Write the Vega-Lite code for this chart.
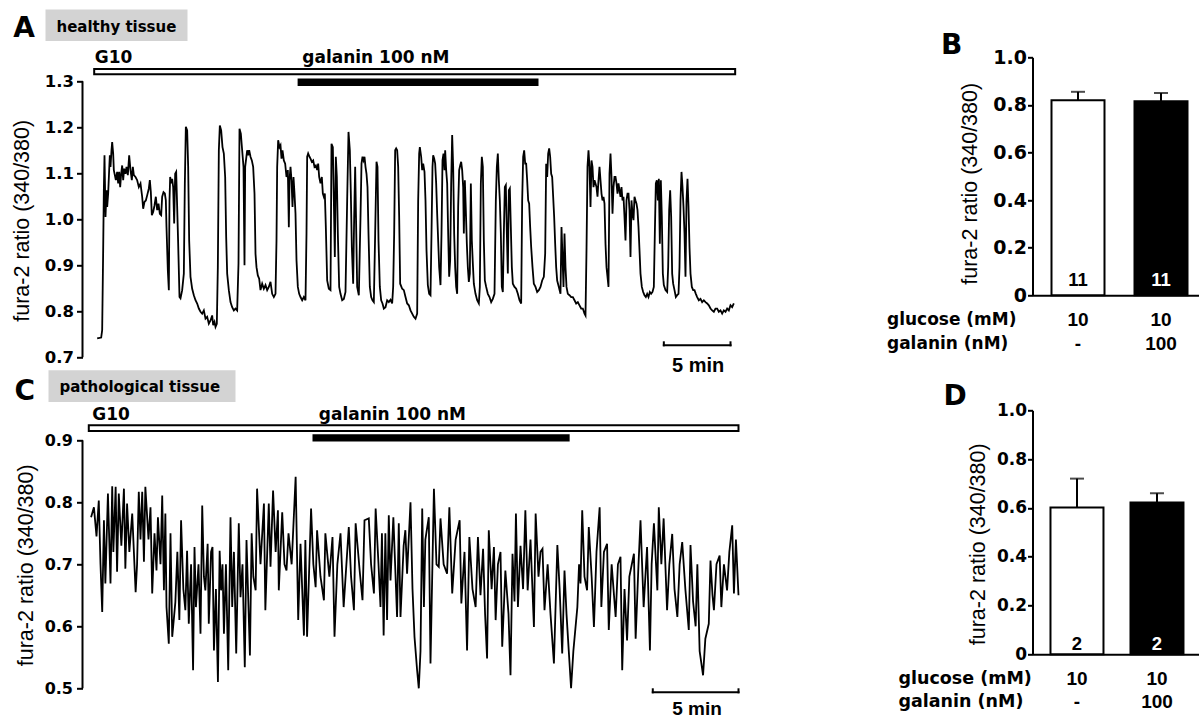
{
"$schema": "https://vega.github.io/schema/vega-lite/v6.json",
"background": "white",
"padding": {"left": 11.5, "top": 9.3, "right": 0, "bottom": 0},
"config": {"view": {"stroke": null}},
"columns": 2,
"bounds": "flush",
"align": "each",
"spacing": {"row": 53, "column": 290},
"concat": [
{
"width": 660, "height": 300,
"layer": [
{"data": {"values": [{"t":66,"r":0.741},{"t":84,"r":0.743},{"t":88.5,"r":0.759},{"t":93,"r":0.933},{"t":96,"r":1.063},{"t":99,"r":1.139},{"t":103.5,"r":1.005},{"t":108,"r":1.063},{"t":111,"r":1.027},{"t":115.5,"r":1.056},{"t":120,"r":1.107},{"t":123,"r":1.139},{"t":126,"r":1.114},{"t":130.5,"r":1.15},{"t":133.5,"r":1.168},{"t":138,"r":1.143},{"t":141,"r":1.107},{"t":145.5,"r":1.096},{"t":150,"r":1.085},{"t":156,"r":1.103},{"t":160.5,"r":1.078},{"t":165,"r":1.103},{"t":169.5,"r":1.07},{"t":174,"r":1.099},{"t":178.5,"r":1.117},{"t":183,"r":1.085},{"t":187.5,"r":1.11},{"t":193.5,"r":1.099},{"t":198,"r":1.114},{"t":204,"r":1.096},{"t":210,"r":1.139},{"t":216,"r":1.107},{"t":222,"r":1.085},{"t":226.5,"r":1.114},{"t":231,"r":1.096},{"t":238.5,"r":1.092},{"t":246,"r":1.085},{"t":253.5,"r":1.07},{"t":261,"r":1.078},{"t":268.5,"r":1.049},{"t":273,"r":1.023},{"t":279,"r":1.038},{"t":285,"r":1.041},{"t":291,"r":1.052},{"t":298.5,"r":1.067},{"t":303,"r":1.085},{"t":307.5,"r":1.059},{"t":312,"r":1.009},{"t":318,"r":1.016},{"t":324,"r":1.03},{"t":330,"r":1.049},{"t":336,"r":1.02},{"t":342,"r":1.034},{"t":348,"r":1.012},{"t":354,"r":1.009},{"t":358.5,"r":1.049},{"t":364.5,"r":1.059},{"t":370.5,"r":1.056},{"t":375,"r":1.041},{"t":378,"r":0.983},{"t":384,"r":0.889},{"t":388.5,"r":0.846},{"t":391.5,"r":1.041},{"t":394.5,"r":1.092},{"t":399,"r":1.078},{"t":403.5,"r":1.088},{"t":408,"r":1.07},{"t":412.5,"r":0.991},{"t":417,"r":1.099},{"t":421.5,"r":1.103},{"t":426,"r":1.027},{"t":430.5,"r":0.947},{"t":436.5,"r":0.831},{"t":441,"r":0.828},{"t":448.5,"r":0.846},{"t":456,"r":0.882},{"t":460.5,"r":1.078},{"t":465,"r":1.201},{"t":471,"r":1.193},{"t":475.5,"r":1.114},{"t":480,"r":0.954},{"t":486,"r":0.875},{"t":493.5,"r":0.849},{"t":501,"r":0.835},{"t":508.5,"r":0.824},{"t":516,"r":0.817},{"t":523.5,"r":0.806},{"t":531,"r":0.799},{"t":538.5,"r":0.795},{"t":546,"r":0.802},{"t":553.5,"r":0.784},{"t":561,"r":0.788},{"t":568.5,"r":0.773},{"t":576,"r":0.78},{"t":583.5,"r":0.791},{"t":588,"r":0.77},{"t":594,"r":0.777},{"t":598.5,"r":0.766},{"t":604.5,"r":0.773},{"t":609,"r":0.896},{"t":613.5,"r":1.15},{"t":618,"r":1.204},{"t":624,"r":1.193},{"t":630,"r":1.157},{"t":636,"r":1.143},{"t":642,"r":1.092},{"t":646.5,"r":0.962},{"t":651,"r":0.882},{"t":658.5,"r":0.846},{"t":666,"r":0.82},{"t":673.5,"r":0.809},{"t":681,"r":0.802},{"t":688.5,"r":0.806},{"t":696,"r":0.802},{"t":702,"r":0.904},{"t":706.5,"r":1.197},{"t":712.5,"r":1.186},{"t":718.5,"r":1.15},{"t":724.5,"r":1.114},{"t":729,"r":0.9},{"t":732,"r":1.114},{"t":736.5,"r":1.132},{"t":741,"r":1.15},{"t":745.5,"r":1.139},{"t":750,"r":1.15},{"t":756,"r":1.136},{"t":762,"r":1.128},{"t":768,"r":1.114},{"t":774,"r":1.056},{"t":778.5,"r":0.925},{"t":783,"r":0.896},{"t":789,"r":0.878},{"t":795,"r":0.871},{"t":801,"r":0.846},{"t":808.5,"r":0.86},{"t":816,"r":0.849},{"t":823.5,"r":0.857},{"t":831,"r":0.846},{"t":838.5,"r":0.853},{"t":846,"r":0.864},{"t":853.5,"r":0.838},{"t":861,"r":0.831},{"t":868.5,"r":0.838},{"t":873,"r":0.954},{"t":876,"r":1.114},{"t":880.5,"r":1.172},{"t":886.5,"r":1.157},{"t":891,"r":1.161},{"t":895.5,"r":1.132},{"t":900,"r":1.15},{"t":906,"r":1.128},{"t":912,"r":1.121},{"t":918,"r":1.092},{"t":924,"r":1.107},{"t":928.5,"r":0.983},{"t":931.5,"r":1.085},{"t":936,"r":1.114},{"t":940.5,"r":1.085},{"t":945,"r":1.027},{"t":949.5,"r":1.092},{"t":954,"r":1.056},{"t":958.5,"r":1.012},{"t":963,"r":0.911},{"t":969,"r":0.853},{"t":975,"r":0.838},{"t":981,"r":0.831},{"t":988.5,"r":0.824},{"t":996,"r":0.831},{"t":1003.5,"r":0.824},{"t":1008,"r":0.969},{"t":1011,"r":1.136},{"t":1015.5,"r":1.143},{"t":1021.5,"r":1.136},{"t":1026,"r":1.132},{"t":1032,"r":1.125},{"t":1038,"r":1.128},{"t":1044,"r":1.114},{"t":1050,"r":1.117},{"t":1056,"r":1.107},{"t":1060.5,"r":1.121},{"t":1065,"r":1.092},{"t":1071,"r":1.078},{"t":1077,"r":1.092},{"t":1081.5,"r":1.056},{"t":1086,"r":1.049},{"t":1090.5,"r":1.056},{"t":1095,"r":0.983},{"t":1101,"r":0.867},{"t":1108.5,"r":0.849},{"t":1116,"r":0.846},{"t":1120.5,"r":1.164},{"t":1126.5,"r":1.157},{"t":1131,"r":1.041},{"t":1135.5,"r":0.918},{"t":1140,"r":1.136},{"t":1144.5,"r":1.092},{"t":1149,"r":0.969},{"t":1155,"r":0.853},{"t":1161,"r":0.838},{"t":1168.5,"r":0.824},{"t":1176,"r":0.827},{"t":1183.5,"r":0.842},{"t":1191,"r":1.041},{"t":1197,"r":1.19},{"t":1203,"r":1.15},{"t":1207.5,"r":1.056},{"t":1212,"r":0.94},{"t":1218,"r":0.86},{"t":1222.5,"r":1.005},{"t":1227,"r":1.114},{"t":1231.5,"r":0.983},{"t":1236,"r":0.853},{"t":1243.5,"r":0.835},{"t":1251,"r":1.005},{"t":1255.5,"r":1.121},{"t":1260,"r":1.136},{"t":1264.5,"r":1.128},{"t":1269,"r":1.136},{"t":1273.5,"r":1.114},{"t":1278,"r":1.099},{"t":1282.5,"r":1.07},{"t":1287,"r":0.969},{"t":1293,"r":0.853},{"t":1299,"r":0.831},{"t":1305,"r":0.824},{"t":1311,"r":0.82},{"t":1317,"r":0.969},{"t":1323,"r":1.125},{"t":1327.5,"r":1.114},{"t":1332,"r":0.954},{"t":1338,"r":0.853},{"t":1344,"r":0.824},{"t":1350,"r":0.817},{"t":1356,"r":0.806},{"t":1363.5,"r":0.809},{"t":1371,"r":0.824},{"t":1378.5,"r":0.82},{"t":1386,"r":0.825},{"t":1393.5,"r":0.817},{"t":1398,"r":0.853},{"t":1402.5,"r":0.969},{"t":1407,"r":1.15},{"t":1411.5,"r":1.154},{"t":1416,"r":1.15},{"t":1420.5,"r":1.114},{"t":1425,"r":1.005},{"t":1429.5,"r":0.86},{"t":1438.5,"r":0.849},{"t":1446,"r":0.846},{"t":1453.5,"r":0.831},{"t":1461,"r":0.817},{"t":1468.5,"r":0.813},{"t":1476,"r":0.802},{"t":1483.5,"r":0.795},{"t":1491,"r":0.788},{"t":1498.5,"r":0.784},{"t":1506,"r":0.795},{"t":1510.5,"r":1.041},{"t":1515,"r":1.143},{"t":1518,"r":1.157},{"t":1524,"r":1.136},{"t":1528.5,"r":1.107},{"t":1533,"r":1.121},{"t":1539,"r":1.103},{"t":1543.5,"r":1.041},{"t":1548,"r":0.933},{"t":1554,"r":0.857},{"t":1560,"r":0.838},{"t":1566,"r":0.835},{"t":1570.5,"r":0.969},{"t":1575,"r":1.114},{"t":1578,"r":1.139},{"t":1582.5,"r":1.132},{"t":1587,"r":1.121},{"t":1591.5,"r":1.078},{"t":1596,"r":1.012},{"t":1600.5,"r":0.954},{"t":1605,"r":0.896},{"t":1611,"r":0.857},{"t":1615.5,"r":0.969},{"t":1620,"r":1.128},{"t":1624.5,"r":1.143},{"t":1629,"r":1.107},{"t":1632,"r":1.15},{"t":1636.5,"r":1.107},{"t":1641,"r":1.078},{"t":1645.5,"r":0.969},{"t":1650,"r":0.875},{"t":1654.5,"r":0.911},{"t":1659,"r":1.078},{"t":1663.5,"r":1.183},{"t":1668,"r":1.114},{"t":1672.5,"r":0.969},{"t":1677,"r":0.896},{"t":1681.5,"r":0.853},{"t":1686,"r":0.838},{"t":1690.5,"r":1.027},{"t":1695,"r":1.107},{"t":1699.5,"r":1.117},{"t":1704,"r":1.125},{"t":1708.5,"r":1.107},{"t":1713,"r":1.07},{"t":1716,"r":0.969},{"t":1720.5,"r":1.085},{"t":1725,"r":1.02},{"t":1729.5,"r":0.947},{"t":1734,"r":0.896},{"t":1738.5,"r":0.864},{"t":1743,"r":0.882},{"t":1747.5,"r":1.078},{"t":1752,"r":0.954},{"t":1756.5,"r":0.904},{"t":1761,"r":0.86},{"t":1768.5,"r":0.838},{"t":1776,"r":0.824},{"t":1783.5,"r":0.817},{"t":1788,"r":0.853},{"t":1792.5,"r":1.078},{"t":1797,"r":1.136},{"t":1801.5,"r":1.114},{"t":1806,"r":0.954},{"t":1810.5,"r":0.867},{"t":1816.5,"r":0.853},{"t":1824,"r":0.838},{"t":1831.5,"r":0.831},{"t":1839,"r":0.82},{"t":1846.5,"r":0.827},{"t":1854,"r":0.838},{"t":1860,"r":1.041},{"t":1864.5,"r":1.114},{"t":1869,"r":1.143},{"t":1873.5,"r":1.085},{"t":1878,"r":1.041},{"t":1882.5,"r":0.969},{"t":1887,"r":0.853},{"t":1891.5,"r":0.842},{"t":1896,"r":0.969},{"t":1900.5,"r":1.07},{"t":1905,"r":1.074},{"t":1909.5,"r":0.969},{"t":1914,"r":0.882},{"t":1918.5,"r":1.063},{"t":1923,"r":1.067},{"t":1927.5,"r":0.983},{"t":1932,"r":0.896},{"t":1936.5,"r":0.86},{"t":1944,"r":0.853},{"t":1951.5,"r":0.849},{"t":1959,"r":0.838},{"t":1966.5,"r":0.824},{"t":1974,"r":0.817},{"t":1978.5,"r":1.041},{"t":1983,"r":1.136},{"t":1987.5,"r":1.15},{"t":1992,"r":1.121},{"t":1996.5,"r":1.121},{"t":2001,"r":1.085},{"t":2005.5,"r":1.041},{"t":2010,"r":1.034},{"t":2014.5,"r":0.983},{"t":2019,"r":0.94},{"t":2025,"r":0.896},{"t":2031,"r":0.86},{"t":2038.5,"r":0.853},{"t":2046,"r":0.842},{"t":2053.5,"r":0.846},{"t":2061,"r":0.853},{"t":2068.5,"r":0.867},{"t":2076,"r":0.875},{"t":2082,"r":0.925},{"t":2086.5,"r":1.121},{"t":2091,"r":1.092},{"t":2095.5,"r":1.143},{"t":2100,"r":1.154},{"t":2104.5,"r":1.136},{"t":2109,"r":1.099},{"t":2113.5,"r":1.092},{"t":2118,"r":1.049},{"t":2122.5,"r":1.005},{"t":2127,"r":0.947},{"t":2131.5,"r":0.896},{"t":2136,"r":0.867},{"t":2143.5,"r":0.853},{"t":2151,"r":0.838},{"t":2155.5,"r":0.983},{"t":2160,"r":0.918},{"t":2164.5,"r":0.853},{"t":2169,"r":0.969},{"t":2173.5,"r":0.896},{"t":2178,"r":0.853},{"t":2184,"r":0.838},{"t":2191.5,"r":0.835},{"t":2199,"r":0.831},{"t":2206.5,"r":0.831},{"t":2214,"r":0.824},{"t":2221.5,"r":0.817},{"t":2229,"r":0.82},{"t":2236.5,"r":0.813},{"t":2244,"r":0.806},{"t":2251.5,"r":0.806},{"t":2259,"r":0.795},{"t":2263.5,"r":0.791},{"t":2268,"r":0.933},{"t":2272.5,"r":1.114},{"t":2277,"r":1.15},{"t":2281.5,"r":1.114},{"t":2286,"r":1.027},{"t":2290.5,"r":1.128},{"t":2295,"r":1.114},{"t":2299.5,"r":1.07},{"t":2304,"r":1.085},{"t":2308.5,"r":1.078},{"t":2313,"r":1.07},{"t":2317.5,"r":1.049},{"t":2322,"r":1.085},{"t":2326.5,"r":1.114},{"t":2331,"r":1.085},{"t":2335.5,"r":1.056},{"t":2340,"r":1.041},{"t":2344.5,"r":1.049},{"t":2349,"r":1.034},{"t":2353.5,"r":0.947},{"t":2358,"r":0.896},{"t":2362.5,"r":0.875},{"t":2367,"r":0.853},{"t":2371.5,"r":1.099},{"t":2376,"r":1.143},{"t":2380.5,"r":1.092},{"t":2385,"r":1.012},{"t":2389.5,"r":1.07},{"t":2394,"r":1.092},{"t":2398.5,"r":1.092},{"t":2403,"r":1.078},{"t":2407.5,"r":1.056},{"t":2412,"r":1.078},{"t":2416.5,"r":1.063},{"t":2421,"r":1.049},{"t":2425.5,"r":1.07},{"t":2430,"r":1.041},{"t":2434.5,"r":1.049},{"t":2439,"r":1.005},{"t":2443.5,"r":0.954},{"t":2448,"r":1.041},{"t":2452.5,"r":1.056},{"t":2457,"r":1.056},{"t":2461.5,"r":1.02},{"t":2466,"r":0.918},{"t":2470.5,"r":1.041},{"t":2475,"r":1.012},{"t":2479.5,"r":0.998},{"t":2484,"r":1.049},{"t":2488.5,"r":1.041},{"t":2493,"r":1.034},{"t":2497.5,"r":1.02},{"t":2502,"r":0.983},{"t":2506.5,"r":0.933},{"t":2511,"r":0.882},{"t":2517,"r":0.853},{"t":2523,"r":0.842},{"t":2529,"r":0.835},{"t":2535,"r":0.831},{"t":2541,"r":0.838},{"t":2547,"r":0.831},{"t":2553,"r":0.842},{"t":2559,"r":0.838},{"t":2565,"r":0.842},{"t":2571,"r":0.853},{"t":2575.5,"r":0.969},{"t":2580,"r":1.078},{"t":2584.5,"r":1.085},{"t":2589,"r":1.041},{"t":2593.5,"r":1.088},{"t":2598,"r":0.947},{"t":2602.5,"r":1.085},{"t":2607,"r":1.005},{"t":2611.5,"r":0.882},{"t":2616,"r":0.857},{"t":2623.5,"r":0.846},{"t":2631,"r":0.842},{"t":2635.5,"r":0.896},{"t":2640,"r":1.02},{"t":2644.5,"r":1.063},{"t":2649,"r":1.005},{"t":2653.5,"r":0.882},{"t":2658,"r":0.86},{"t":2664,"r":0.846},{"t":2670,"r":0.831},{"t":2676,"r":0.835},{"t":2682,"r":0.838},{"t":2686.5,"r":0.896},{"t":2691,"r":1.041},{"t":2695.5,"r":1.103},{"t":2700,"r":1.07},{"t":2704.5,"r":1.027},{"t":2709,"r":0.969},{"t":2713.5,"r":0.875},{"t":2718,"r":1.041},{"t":2722.5,"r":1.088},{"t":2727,"r":1.027},{"t":2731.5,"r":0.94},{"t":2736,"r":0.882},{"t":2742,"r":0.853},{"t":2748,"r":0.846},{"t":2754,"r":0.846},{"t":2760,"r":0.838},{"t":2766,"r":0.831},{"t":2773.5,"r":0.824},{"t":2781,"r":0.827},{"t":2788.5,"r":0.82},{"t":2796,"r":0.824},{"t":2803.5,"r":0.82},{"t":2811,"r":0.817},{"t":2818.5,"r":0.813},{"t":2826,"r":0.806},{"t":2833.5,"r":0.802},{"t":2841,"r":0.799},{"t":2848.5,"r":0.806},{"t":2856,"r":0.806},{"t":2863.5,"r":0.799},{"t":2871,"r":0.802},{"t":2878.5,"r":0.795},{"t":2886,"r":0.802},{"t":2893.5,"r":0.799},{"t":2901,"r":0.806},{"t":2908.5,"r":0.802},{"t":2916,"r":0.813},{"t":2923.5,"r":0.809},{"t":2931,"r":0.817}]},
 "mark": {"type": "line", "color": "black", "strokeWidth": 1.8},
 "encoding": {
  "x": {"field": "t", "type": "quantitative", "scale": {"domain": [0, 2970], "nice": false, "zero": false}, "axis": null},
  "y": {"field": "r", "type": "quantitative", "scale": {"domain": [0.7, 1.35217], "nice": false, "zero": false},
   "axis": {"values": [0.7, 0.8, 0.9, 1.0, 1.1, 1.2, 1.3], "format": ".1f", "domain": false, "grid": false, "tickSize": 6, "tickWidth": 2, "tickColor": "black", "labelPadding": 3, "labelFont": "DejaVu Sans", "labelFontWeight": "bold", "labelFontSize": 16.5, "labelColor": "black", "title": "fura-2 ratio (340/380)", "titleFont": "Liberation Sans", "titleFontWeight": "normal", "titleFontSize": 21.5, "titleColor": "black", "titleX": -49, "titleY": 163, "titleAngle": -90, "titleAlign": "center", "titleBaseline": "bottom"}}
 }},
{"data": {"values": [{"axis": "y"}]}, "mark": {"type": "rule", "color": "black", "strokeWidth": 2}, "encoding": {"x": {"datum": 0}, "y": {"datum": 0.7}, "y2": {"datum": 1.3}}},
{"data": {"values": [{"solution": "G10", "start": 52.6, "end": 2937}]}, "mark": {"type": "rect", "fill": "white", "stroke": "black", "strokeWidth": 2}, "encoding": {"x": {"field": "start", "type": "quantitative"}, "x2": {"field": "end"}, "y": {"datum": 1.32674}, "y2": {"datum": 1.31522}}},
{"data": {"values": [{"solution": "galanin 100 nM", "start": 968, "end": 2052}]}, "mark": {"type": "rect", "fill": "black"}, "encoding": {"x": {"field": "start", "type": "quantitative"}, "x2": {"field": "end"}, "y": {"datum": 1.30587}, "y2": {"datum": 1.28978}}},
{"data": {"values": [{"label": "G10"}]}, "mark": {"type": "text", "align": "left", "baseline": "alphabetic", "font": "DejaVu Sans", "fontWeight": "bold", "fontSize": 17, "color": "black"}, "encoding": {"x": {"datum": 55}, "y": {"datum": 1.3407}, "text": {"field": "label"}}},
{"data": {"values": [{"label": "galanin 100 nM"}]}, "mark": {"type": "text", "align": "left", "baseline": "alphabetic", "font": "DejaVu Sans", "fontWeight": "bold", "fontSize": 17, "color": "black"}, "encoding": {"x": {"datum": 989}, "y": {"datum": 1.3407}, "text": {"field": "label"}}},
{"data": {"values": [{"panel": "healthy tissue"}]}, "mark": {"type": "rect", "fill": "#d3d3d3"}, "encoding": {"x": {"datum": -166.5}, "x2": {"datum": 472.5}, "y": {"datum": 1.4559}, "y2": {"datum": 1.3876}}},
{"data": {"values": [{"label": "healthy tissue"}]}, "mark": {"type": "text", "align": "left", "baseline": "alphabetic", "font": "DejaVu Sans", "fontWeight": "bold", "fontSize": 15, "color": "black"}, "encoding": {"x": {"datum": -117}, "y": {"datum": 1.4072}, "text": {"field": "label"}}},
{"data": {"values": [{"label": "A"}]}, "mark": {"type": "text", "align": "left", "baseline": "alphabetic", "font": "DejaVu Sans", "fontWeight": "bold", "fontSize": 28, "color": "black"}, "encoding": {"x": {"datum": -312}, "y": {"datum": 1.3963}, "text": {"field": "label"}}},
{"data": {"values": [{"start": 2616, "end": 2916}]}, "mark": {"type": "rule", "color": "black", "strokeWidth": 2, "strokeCap": "square"}, "encoding": {"x": {"field": "start", "type": "quantitative"}, "x2": {"field": "end"}, "y": {"datum": 0.7261}}},
{"data": {"values": [{"start": 2616, "end": 2916}]}, "mark": {"type": "rule", "color": "black", "strokeWidth": 2, "strokeCap": "square"}, "encoding": {"x": {"field": "start", "type": "quantitative"}, "y": {"datum": 0.7261}, "y2": {"datum": 0.7326}}},
{"data": {"values": [{"start": 2616, "end": 2916}]}, "mark": {"type": "rule", "color": "black", "strokeWidth": 2, "strokeCap": "square"}, "encoding": {"x": {"field": "end", "type": "quantitative"}, "y": {"datum": 0.7261}, "y2": {"datum": 0.7326}}},
{"data": {"values": [{"label": "5 min"}]}, "mark": {"type": "text", "align": "center", "baseline": "alphabetic", "font": "Liberation Sans", "fontWeight": "bold", "fontSize": 20, "color": "black"}, "encoding": {"x": {"datum": 2770}, "y": {"datum": 0.6674}, "text": {"field": "label"}}}
]
},
{
"width": 167, "height": 238,
"data": {"values": [{"condition": "control", "glucose": "10", "galanin": "-", "mean": 0.82, "upper": 0.855, "n": "11"}, {"condition": "galanin", "glucose": "10", "galanin": "100", "mean": 0.815, "upper": 0.85, "n": "11"}]},
"layer": [
{"mark": {"type": "bar", "stroke": "black", "strokeWidth": 2},
 "encoding": {
  "x": {"field": "condition", "type": "nominal", "scale": {"domain": ["control", "galanin"], "paddingInner": 0.3614, "paddingOuter": 0.1867, "align": 0.613}, "axis": {"labels": false, "ticks": false, "title": null, "grid": false, "domainWidth": 2, "domainColor": "black"}},
  "y": {"field": "mean", "type": "quantitative", "scale": {"domain": [0, 1], "nice": false}, "axis": {"values": [0, 0.2, 0.4, 0.6, 0.8, 1], "labelExpr": "datum.value === 0 ? '0' : format(datum.value, '.1f')", "grid": false, "tickSize": 5, "tickWidth": 2, "tickColor": "black", "domainWidth": 2, "domainColor": "black", "labelPadding": 1, "labelFont": "DejaVu Sans", "labelFontWeight": "bold", "labelFontSize": 19, "labelColor": "black", "title": "fura-2 ratio (340/380)", "titleFont": "Liberation Sans", "titleFontWeight": "normal", "titleFontSize": 21.5, "titleColor": "black", "titleX": -51, "titleY": 126, "titleAngle": -90, "titleAlign": "center", "titleBaseline": "bottom"}},
  "fill": {"condition": {"test": "datum.condition === 'galanin'", "value": "black"}, "value": "white"}
 }},
{"mark": {"type": "rule", "color": "black", "strokeWidth": 2}, "encoding": {"x": {"field": "condition", "type": "nominal"}, "y": {"field": "mean", "type": "quantitative"}, "y2": {"field": "upper"}}},
{"mark": {"type": "tick", "color": "black", "thickness": 2, "size": 14, "orient": "horizontal"}, "encoding": {"x": {"field": "condition", "type": "nominal"}, "y": {"field": "upper", "type": "quantitative"}}},
{"mark": {"type": "text", "font": "Liberation Sans", "fontWeight": "bold", "fontSize": 18.5, "baseline": "middle"}, "encoding": {"x": {"field": "condition", "type": "nominal"}, "y": {"datum": 0.066}, "text": {"field": "n"}, "color": {"condition": {"test": "datum.condition === 'galanin'", "value": "white"}, "value": "black"}}},
{"mark": {"type": "text", "font": "Liberation Sans", "fontWeight": "bold", "fontSize": 19, "baseline": "middle", "color": "black"}, "encoding": {"x": {"field": "condition", "type": "nominal"}, "y": {"datum": -0.102}, "text": {"field": "glucose"}}},
{"mark": {"type": "text", "font": "Liberation Sans", "fontWeight": "bold", "fontSize": 19, "baseline": "middle", "color": "black"}, "encoding": {"x": {"field": "condition", "type": "nominal"}, "y": {"datum": -0.206}, "text": {"field": "galanin"}}},
{"data": {"values": [{"label": "glucose (mM)"}]}, "mark": {"type": "text", "align": "left", "dx": -191, "font": "DejaVu Sans", "fontWeight": "bold", "fontSize": 17, "baseline": "middle", "color": "black"}, "encoding": {"x": {"datum": "control", "type": "nominal"}, "y": {"datum": -0.102}, "text": {"field": "label"}}},
{"data": {"values": [{"label": "galanin (nM)"}]}, "mark": {"type": "text", "align": "left", "dx": -191, "font": "DejaVu Sans", "fontWeight": "bold", "fontSize": 17, "baseline": "middle", "color": "black"}, "encoding": {"x": {"datum": "control", "type": "nominal"}, "y": {"datum": -0.206}, "text": {"field": "label"}}},
{"data": {"values": [{"label": "B"}]}, "mark": {"type": "text", "align": "left", "dx": -137, "font": "DejaVu Sans", "fontWeight": "bold", "fontSize": 28, "baseline": "alphabetic", "color": "black"}, "encoding": {"x": {"datum": "control", "type": "nominal"}, "y": {"datum": 1.0126}, "text": {"field": "label"}}}
]
},
{
"width": 660, "height": 278,
"layer": [
{"data": {"values": [{"t":30,"r":0.776},{"t":40,"r":0.792},{"t":49,"r":0.745},{"t":57,"r":0.803},{"t":63,"r":0.7},{"t":69,"r":0.623},{"t":75,"r":0.771},{"t":80,"r":0.669},{"t":89,"r":0.814},{"t":98,"r":0.669},{"t":104,"r":0.826},{"t":108,"r":0.72},{"t":116,"r":0.825},{"t":121,"r":0.688},{"t":127,"r":0.814},{"t":136,"r":0.73},{"t":145,"r":0.822},{"t":150,"r":0.693},{"t":156,"r":0.798},{"t":164,"r":0.72},{"t":174,"r":0.782},{"t":186,"r":0.655},{"t":191,"r":0.7},{"t":197,"r":0.817},{"t":203,"r":0.74},{"t":209,"r":0.817},{"t":215,"r":0.704},{"t":220,"r":0.825},{"t":231,"r":0.74},{"t":238,"r":0.792},{"t":244,"r":0.653},{"t":252,"r":0.75},{"t":259,"r":0.69},{"t":264,"r":0.776},{"t":273,"r":0.7},{"t":279,"r":0.811},{"t":285,"r":0.658},{"t":290,"r":0.782},{"t":294,"r":0.631},{"t":302,"r":0.572},{"t":308,"r":0.75},{"t":314,"r":0.583},{"t":325,"r":0.639},{"t":332,"r":0.72},{"t":339,"r":0.61},{"t":345,"r":0.771},{"t":353,"r":0.66},{"t":360,"r":0.626},{"t":366,"r":0.722},{"t":372,"r":0.604},{"t":380,"r":0.7},{"t":387,"r":0.529},{"t":392,"r":0.728},{"t":397,"r":0.631},{"t":406,"r":0.7},{"t":413,"r":0.588},{"t":419,"r":0.795},{"t":425,"r":0.68},{"t":430,"r":0.658},{"t":438,"r":0.733},{"t":442,"r":0.604},{"t":450,"r":0.72},{"t":455,"r":0.728},{"t":460,"r":0.561},{"t":467,"r":0.66},{"t":474,"r":0.51},{"t":480,"r":0.722},{"t":485,"r":0.658},{"t":490,"r":0.7},{"t":495,"r":0.588},{"t":502,"r":0.7},{"t":510,"r":0.529},{"t":518,"r":0.776},{"t":524,"r":0.631},{"t":530,"r":0.72},{"t":538,"r":0.556},{"t":547,"r":0.766},{"t":553,"r":0.647},{"t":560,"r":0.7},{"t":568,"r":0.534},{"t":574,"r":0.739},{"t":586,"r":0.553},{"t":592,"r":0.75},{"t":598,"r":0.68},{"t":606,"r":0.658},{"t":611,"r":0.822},{"t":623,"r":0.7},{"t":635,"r":0.798},{"t":640,"r":0.626},{"t":652,"r":0.798},{"t":658,"r":0.696},{"t":667,"r":0.819},{"t":676,"r":0.72},{"t":684,"r":0.787},{"t":687,"r":0.658},{"t":699,"r":0.784},{"t":707,"r":0.7},{"t":714,"r":0.69},{"t":721,"r":0.75},{"t":732,"r":0.7},{"t":746,"r":0.841},{"t":755,"r":0.61},{"t":763,"r":0.733},{"t":775,"r":0.585},{"t":780,"r":0.739},{"t":786,"r":0.583},{"t":800,"r":0.79},{"t":808,"r":0.7},{"t":816,"r":0.663},{"t":821,"r":0.755},{"t":833,"r":0.68},{"t":845,"r":0.642},{"t":850,"r":0.75},{"t":864,"r":0.68},{"t":875,"r":0.744},{"t":882,"r":0.583},{"t":892,"r":0.7},{"t":903,"r":0.75},{"t":914,"r":0.631},{"t":932,"r":0.76},{"t":940,"r":0.68},{"t":950,"r":0.626},{"t":956,"r":0.766},{"t":970,"r":0.69},{"t":980,"r":0.642},{"t":987,"r":0.771},{"t":1002,"r":0.774},{"t":1010,"r":0.7},{"t":1020,"r":0.653},{"t":1026,"r":0.79},{"t":1036,"r":0.7},{"t":1043,"r":0.631},{"t":1048,"r":0.75},{"t":1054,"r":0.585},{"t":1060,"r":0.75},{"t":1066,"r":0.61},{"t":1072,"r":0.779},{"t":1078,"r":0.674},{"t":1088,"r":0.776},{"t":1101,"r":0.615},{"t":1107,"r":0.766},{"t":1113,"r":0.615},{"t":1124,"r":0.73},{"t":1130,"r":0.755},{"t":1136,"r":0.685},{"t":1148,"r":0.8},{"t":1155,"r":0.66},{"t":1162,"r":0.583},{"t":1171,"r":0.53},{"t":1177,"r":0.5},{"t":1183,"r":0.56},{"t":1189,"r":0.79},{"t":1195,"r":0.631},{"t":1200,"r":0.74},{"t":1212,"r":0.776},{"t":1218,"r":0.54},{"t":1230,"r":0.822},{"t":1239,"r":0.7},{"t":1247,"r":0.696},{"t":1253,"r":0.774},{"t":1264,"r":0.7},{"t":1276,"r":0.685},{"t":1284,"r":0.792},{"t":1294,"r":0.653},{"t":1306,"r":0.74},{"t":1320,"r":0.771},{"t":1326,"r":0.637},{"t":1337,"r":0.72},{"t":1346,"r":0.561},{"t":1354,"r":0.744},{"t":1365,"r":0.66},{"t":1376,"r":0.631},{"t":1384,"r":0.744},{"t":1393,"r":0.65},{"t":1402,"r":0.725},{"t":1409,"r":0.62},{"t":1416,"r":0.548},{"t":1422,"r":0.755},{"t":1432,"r":0.66},{"t":1440,"r":0.728},{"t":1446,"r":0.61},{"t":1454,"r":0.7},{"t":1463,"r":0.72},{"t":1469,"r":0.567},{"t":1480,"r":0.69},{"t":1491,"r":0.62},{"t":1498,"r":0.521},{"t":1505,"r":0.717},{"t":1512,"r":0.64},{"t":1517,"r":0.782},{"t":1524,"r":0.631},{"t":1533,"r":0.73},{"t":1542,"r":0.66},{"t":1550,"r":0.787},{"t":1558,"r":0.658},{"t":1568,"r":0.74},{"t":1580,"r":0.599},{"t":1586,"r":0.782},{"t":1596,"r":0.68},{"t":1603,"r":0.72},{"t":1610,"r":0.725},{"t":1617,"r":0.626},{"t":1628,"r":0.7},{"t":1638,"r":0.62},{"t":1650,"r":0.54},{"t":1662,"r":0.731},{"t":1670,"r":0.66},{"t":1679,"r":0.556},{"t":1687,"r":0.69},{"t":1694,"r":0.62},{"t":1702,"r":0.56},{"t":1710,"r":0.5},{"t":1718,"r":0.56},{"t":1732,"r":0.631},{"t":1738,"r":0.7},{"t":1743,"r":0.669},{"t":1749,"r":0.787},{"t":1757,"r":0.68},{"t":1766,"r":0.658},{"t":1772,"r":0.76},{"t":1782,"r":0.68},{"t":1790,"r":0.599},{"t":1799,"r":0.72},{"t":1810,"r":0.792},{"t":1816,"r":0.631},{"t":1825,"r":0.72},{"t":1836,"r":0.733},{"t":1842,"r":0.594},{"t":1852,"r":0.7},{"t":1866,"r":0.615},{"t":1874,"r":0.7},{"t":1883,"r":0.712},{"t":1889,"r":0.529},{"t":1897,"r":0.66},{"t":1906,"r":0.577},{"t":1914,"r":0.68},{"t":1930,"r":0.717},{"t":1936,"r":0.58},{"t":1946,"r":0.7},{"t":1953,"r":0.771},{"t":1964,"r":0.631},{"t":1976,"r":0.728},{"t":1986,"r":0.561},{"t":1992,"r":0.7},{"t":2000,"r":0.766},{"t":2012,"r":0.658},{"t":2017,"r":0.792},{"t":2026,"r":0.7},{"t":2034,"r":0.774},{"t":2046,"r":0.626},{"t":2054,"r":0.7},{"t":2064,"r":0.749},{"t":2072,"r":0.66},{"t":2082,"r":0.615},{"t":2090,"r":0.7},{"t":2099,"r":0.736},{"t":2110,"r":0.66},{"t":2122,"r":0.594},{"t":2128,"r":0.731},{"t":2137,"r":0.64},{"t":2146,"r":0.6},{"t":2152,"r":0.7},{"t":2160,"r":0.56},{"t":2172,"r":0.521},{"t":2180,"r":0.58},{"t":2192,"r":0.604},{"t":2198,"r":0.706},{"t":2205,"r":0.65},{"t":2210,"r":0.626},{"t":2219,"r":0.7},{"t":2230,"r":0.714},{"t":2236,"r":0.631},{"t":2245,"r":0.7},{"t":2256,"r":0.658},{"t":2264,"r":0.72},{"t":2274,"r":0.763},{"t":2280,"r":0.653},{"t":2287,"r":0.74},{"t":2296,"r":0.65}]},
 "mark": {"type": "line", "color": "black", "strokeWidth": 1.8},
 "encoding": {
  "x": {"field": "t", "type": "quantitative", "scale": {"domain": [0, 2310], "nice": false, "zero": false}, "axis": null},
  "y": {"field": "r", "type": "quantitative", "scale": {"domain": [0.5, 0.94839], "nice": false, "zero": false},
   "axis": {"values": [0.5, 0.6, 0.7, 0.8, 0.9], "format": ".1f", "domain": false, "grid": false, "tickSize": 6, "tickWidth": 2, "tickColor": "black", "labelPadding": 4, "labelFont": "DejaVu Sans", "labelFontWeight": "bold", "labelFontSize": 16, "labelColor": "black", "title": "fura-2 ratio (340/380)", "titleFont": "Liberation Sans", "titleFontWeight": "normal", "titleFontSize": 21.5, "titleColor": "black", "titleX": -45, "titleY": 154.5, "titleAngle": -90, "titleAlign": "center", "titleBaseline": "bottom"}}
 }},
{"data": {"values": [{"axis": "y"}]}, "mark": {"type": "rule", "color": "black", "strokeWidth": 2}, "encoding": {"x": {"datum": 0}, "y": {"datum": 0.5}, "y2": {"datum": 0.9}}},
{"data": {"values": [{"solution": "G10", "start": 22, "end": 2296}]}, "mark": {"type": "rect", "fill": "white", "stroke": "black", "strokeWidth": 2}, "encoding": {"x": {"field": "start", "type": "quantitative"}, "x2": {"field": "end"}, "y": {"datum": 0.9242}, "y2": {"datum": 0.915}}},
{"data": {"values": [{"solution": "galanin 100 nM", "start": 805, "end": 1705}]}, "mark": {"type": "rect", "fill": "black"}, "encoding": {"x": {"field": "start", "type": "quantitative"}, "x2": {"field": "end"}, "y": {"datum": 0.9097}, "y2": {"datum": 0.8979}}},
{"data": {"values": [{"label": "G10"}]}, "mark": {"type": "text", "align": "left", "baseline": "alphabetic", "font": "DejaVu Sans", "fontWeight": "bold", "fontSize": 17, "color": "black"}, "encoding": {"x": {"datum": 34}, "y": {"datum": 0.9323}, "text": {"field": "label"}}},
{"data": {"values": [{"label": "galanin 100 nM"}]}, "mark": {"type": "text", "align": "left", "baseline": "alphabetic", "font": "DejaVu Sans", "fontWeight": "bold", "fontSize": 17, "color": "black"}, "encoding": {"x": {"datum": 827}, "y": {"datum": 0.9323}, "text": {"field": "label"}}},
{"data": {"values": [{"panel": "pathological tissue"}]}, "mark": {"type": "rect", "fill": "#d3d3d3"}, "encoding": {"x": {"datum": -119}, "x2": {"datum": 535.5}, "y": {"datum": 1.0129}, "y2": {"datum": 0.9618}}},
{"data": {"values": [{"label": "pathological tissue"}]}, "mark": {"type": "text", "align": "left", "baseline": "alphabetic", "font": "DejaVu Sans", "fontWeight": "bold", "fontSize": 15, "color": "black"}, "encoding": {"x": {"datum": -80.5}, "y": {"datum": 0.9779}, "text": {"field": "label"}}},
{"data": {"values": [{"label": "C"}]}, "mark": {"type": "text", "align": "left", "baseline": "alphabetic", "font": "DejaVu Sans", "fontWeight": "bold", "fontSize": 28, "color": "black"}, "encoding": {"x": {"datum": -238}, "y": {"datum": 0.9645}, "text": {"field": "label"}}},
{"data": {"values": [{"start": 1996, "end": 2296}]}, "mark": {"type": "rule", "color": "black", "strokeWidth": 2, "strokeCap": "square"}, "encoding": {"x": {"field": "start", "type": "quantitative"}, "x2": {"field": "end"}, "y": {"datum": 0.4935}}},
{"data": {"values": [{"start": 1996, "end": 2296}]}, "mark": {"type": "rule", "color": "black", "strokeWidth": 2, "strokeCap": "square"}, "encoding": {"x": {"field": "start", "type": "quantitative"}, "y": {"datum": 0.4935}, "y2": {"datum": 0.4984}}},
{"data": {"values": [{"start": 1996, "end": 2296}]}, "mark": {"type": "rule", "color": "black", "strokeWidth": 2, "strokeCap": "square"}, "encoding": {"x": {"field": "end", "type": "quantitative"}, "y": {"datum": 0.4935}, "y2": {"datum": 0.4984}}},
{"data": {"values": [{"label": "5 min"}]}, "mark": {"type": "text", "align": "center", "baseline": "alphabetic", "font": "Liberation Sans", "fontWeight": "bold", "fontSize": 19, "color": "black"}, "encoding": {"x": {"datum": 2151}, "y": {"datum": 0.4569}, "text": {"field": "label"}}}
]
},
{
"width": 167, "height": 244,
"data": {"values": [{"condition": "control", "glucose": "10", "galanin": "-", "mean": 0.602, "upper": 0.72, "n": "2"}, {"condition": "galanin", "glucose": "10", "galanin": "100", "mean": 0.622, "upper": 0.66, "n": "2"}]},
"layer": [
{"mark": {"type": "bar", "stroke": "black", "strokeWidth": 2},
 "encoding": {
  "x": {"field": "condition", "type": "nominal", "scale": {"domain": ["control", "galanin"], "paddingInner": 0.3375, "paddingOuter": 0.2125, "align": 0.529}, "axis": {"labels": false, "ticks": false, "title": null, "grid": false, "domainWidth": 2, "domainColor": "black"}},
  "y": {"field": "mean", "type": "quantitative", "scale": {"domain": [0, 1], "nice": false}, "axis": {"values": [0, 0.2, 0.4, 0.6, 0.8, 1], "labelExpr": "datum.value === 0 ? '0' : format(datum.value, '.1f')", "grid": false, "tickSize": 5, "tickWidth": 2, "tickColor": "black", "domainWidth": 2, "domainColor": "black", "labelPadding": 1, "labelFont": "DejaVu Sans", "labelFontWeight": "bold", "labelFontSize": 17, "labelColor": "black", "title": "fura-2 ratio (340/380)", "titleFont": "Liberation Sans", "titleFontWeight": "normal", "titleFontSize": 21.5, "titleColor": "black", "titleX": -43, "titleY": 133.5, "titleAngle": -90, "titleAlign": "center", "titleBaseline": "bottom"}},
  "fill": {"condition": {"test": "datum.condition === 'galanin'", "value": "black"}, "value": "white"}
 }},
{"mark": {"type": "rule", "color": "black", "strokeWidth": 2}, "encoding": {"x": {"field": "condition", "type": "nominal"}, "y": {"field": "mean", "type": "quantitative"}, "y2": {"field": "upper"}}},
{"mark": {"type": "tick", "color": "black", "thickness": 2, "size": 14, "orient": "horizontal"}, "encoding": {"x": {"field": "condition", "type": "nominal"}, "y": {"field": "upper", "type": "quantitative"}}},
{"mark": {"type": "text", "font": "Liberation Sans", "fontWeight": "bold", "fontSize": 18.5, "baseline": "middle"}, "encoding": {"x": {"field": "condition", "type": "nominal"}, "y": {"datum": 0.044}, "text": {"field": "n"}, "color": {"condition": {"test": "datum.condition === 'galanin'", "value": "white"}, "value": "black"}}},
{"mark": {"type": "text", "font": "Liberation Sans", "fontWeight": "bold", "fontSize": 19, "baseline": "middle", "color": "black"}, "encoding": {"x": {"field": "condition", "type": "nominal"}, "y": {"datum": -0.0996}, "text": {"field": "glucose"}}},
{"mark": {"type": "text", "font": "Liberation Sans", "fontWeight": "bold", "fontSize": 19, "baseline": "middle", "color": "black"}, "encoding": {"x": {"field": "condition", "type": "nominal"}, "y": {"datum": -0.195}, "text": {"field": "galanin"}}},
{"data": {"values": [{"label": "glucose (mM)"}]}, "mark": {"type": "text", "align": "left", "dx": -178.5, "font": "DejaVu Sans", "fontWeight": "bold", "fontSize": 17.5, "baseline": "middle", "color": "black"}, "encoding": {"x": {"datum": "control", "type": "nominal"}, "y": {"datum": -0.0996}, "text": {"field": "label"}}},
{"data": {"values": [{"label": "galanin (nM)"}]}, "mark": {"type": "text", "align": "left", "dx": -178.5, "font": "DejaVu Sans", "fontWeight": "bold", "fontSize": 17.5, "baseline": "middle", "color": "black"}, "encoding": {"x": {"datum": "control", "type": "nominal"}, "y": {"datum": -0.195}, "text": {"field": "label"}}},
{"data": {"values": [{"label": "D"}]}, "mark": {"type": "text", "align": "left", "dx": -133.5, "font": "DejaVu Sans", "fontWeight": "bold", "fontSize": 28, "baseline": "alphabetic", "color": "black"}, "encoding": {"x": {"datum": "control", "type": "nominal"}, "y": {"datum": 1.0205}, "text": {"field": "label"}}}
]
}
]
}
